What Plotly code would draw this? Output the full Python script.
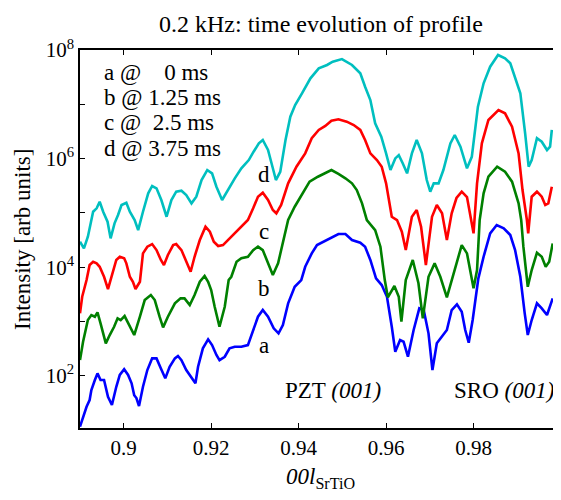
import math
import plotly.graph_objects as go

# ---- data ----
x_a = [0.8900,0.8905,0.8915,0.8922,0.8926,0.8934,0.8940,0.8947,0.8955,0.8964,0.8973,0.8983,0.8991,0.9001,0.9010,0.9018,0.9024,0.9029,0.9035,0.9044,0.9054,0.9065,0.9075,0.9085,0.9095,0.9105,0.9117,0.9124,0.9132,0.9143,0.9155,0.9164,0.9170,0.9181,0.9193,0.9202,0.9212,0.9219,0.9231,0.9242,0.9254,0.9269,0.9284,0.9296,0.9307,0.9318,0.9330,0.9343,0.9354,0.9364,0.9376,0.9391,0.9406,0.9415,0.9430,0.9442,0.9457,0.9476,0.9491,0.9507,0.9522,0.9541,0.9552,0.9564,0.9577,0.9590,0.9602,0.9613,0.9621,0.9632,0.9640,0.9650,0.9663,0.9676,0.9686,0.9697,0.9706,0.9716,0.9728,0.9739,0.9750,0.9762,0.9773,0.9781,0.9789,0.9798,0.9811,0.9823,0.9838,0.9853,0.9869,0.9884,0.9895,0.9907,0.9917,0.9924,0.9933,0.9945,0.9956,0.9968,0.9981]
y_a = [11.6,15.3,27,35.9,54.8,83.7,111,84,84,41,29,63,104,132,104,73,44,39,27.8,63,128,210,210,137,90,147,210,232,195,128,90,73,147,321,470,369,242,195,225,321,344,344,369,698,1227,1630,1227,750,607,863,2163,4375,5810,10200,18000,25600,29500,36500,40900,40900,31700,28300,23900,13600,6250,4700,2860,802,278,456,425,225,698,1750,1630,607,128,397,525,698,1630,2075,1517,698,407,1066,6250,15600,42100,59800,52100,39200,20700,6680,1415,565,1066,2163,1750,1318,2675]

x_b = [0.8900,0.8907,0.8918,0.8926,0.8934,0.8940,0.8947,0.8959,0.8968,0.8978,0.8986,0.8993,0.9002,0.9011,0.9024,0.9037,0.9048,0.9062,0.9071,0.9082,0.9090,0.9101,0.9117,0.9130,0.9139,0.9151,0.9162,0.9174,0.9185,0.9193,0.9200,0.9208,0.9219,0.9231,0.9240,0.9246,0.9258,0.9269,0.9284,0.9296,0.9307,0.9318,0.9330,0.9341,0.9353,0.9364,0.9376,0.9391,0.9410,0.9425,0.9444,0.9461,0.9475,0.9491,0.9507,0.9522,0.9533,0.9545,0.9556,0.9575,0.9587,0.9597,0.9604,0.9619,0.9629,0.9635,0.9645,0.9661,0.9674,0.9684,0.9697,0.9711,0.9724,0.9739,0.9754,0.9773,0.9785,0.9800,0.9808,0.9814,0.9823,0.9834,0.9854,0.9872,0.9888,0.9903,0.9909,0.9914,0.9924,0.9933,0.9945,0.9956,0.9965,0.9973,0.9981]
y_b = [195,425,1066,1318,1227,1479,927,397,565,802,1145,1066,1262,927,565,1227,2490,3076,2490,1227,782,1227,2163,2675,2675,2014,3076,5410,6890,5410,3800,1875,802,1875,5810,6680,12600,14600,15600,20700,23900,20700,11800,7190,11800,27500,74000,130000,229600,375800,464500,535800,616600,521200,433500,350800,264200,150300,74000,48400,23900,5810,2790,4510,2860,993,5810,13600,5060,1145,6680,11800,6680,2790,7190,25600,18000,4090,8890,74000,229600,464500,709600,574100,375800,150300,74000,23900,4375,8890,18500,15600,10200,12600,27500]

x_c = [0.8900,0.8905,0.8915,0.8922,0.8930,0.8938,0.8945,0.8955,0.8964,0.8976,0.8983,0.8991,0.9001,0.9006,0.9014,0.9021,0.9027,0.9037,0.9044,0.9054,0.9065,0.9075,0.9085,0.9092,0.9101,0.9113,0.9120,0.9132,0.9143,0.9153,0.9162,0.9174,0.9187,0.9197,0.9206,0.9216,0.9227,0.9238,0.9254,0.9269,0.9284,0.9296,0.9307,0.9318,0.9330,0.9341,0.9349,0.9360,0.9376,0.9395,0.9415,0.9430,0.9446,0.9461,0.9475,0.9491,0.9510,0.9526,0.9541,0.9552,0.9564,0.9579,0.9590,0.9600,0.9606,0.9613,0.9625,0.9636,0.9645,0.9659,0.9670,0.9680,0.9691,0.9705,0.9716,0.9728,0.9739,0.9750,0.9761,0.9773,0.9785,0.9793,0.9800,0.9808,0.9819,0.9834,0.9857,0.9872,0.9888,0.9903,0.9912,0.9922,0.9925,0.9933,0.9945,0.9956,0.9964,0.9971,0.9979]
y_c = [1415,2860,5810,11000,12600,11800,10200,6680,3970,8890,13600,15600,14600,11800,6680,5410,3970,5410,18000,23900,26700,20700,13600,11000,16800,25600,26700,20700,12600,8260,15600,31700,55700,45100,29500,24600,25600,31700,42100,55700,74000,121600,199100,235600,172900,113200,98400,140000,350800,709600,1.25e6,2.37e6,3.37e6,3.99e6,4.99e6,5.30e6,4.79e6,4.16e6,3.37e6,2.20e6,1.25e6,942000,709600,350800,172900,85100,74000,45100,20700,85100,113200,55700,11000,85100,140000,98400,31700,98400,188400,246000,196300,91600,42100,350800,1.91e6,5.14e6,7.85e6,6.82e6,3.87e6,1.25e6,264200,74000,42100,199100,246000,199100,140000,150300,304100]

x_d = [0.8900,0.8909,0.8918,0.8930,0.8938,0.8945,0.8953,0.8963,0.8970,0.8979,0.8987,0.8995,0.9006,0.9014,0.9025,0.9033,0.9044,0.9056,0.9065,0.9075,0.9086,0.9098,0.9109,0.9120,0.9132,0.9143,0.9155,0.9166,0.9178,0.9191,0.9202,0.9212,0.9225,0.9238,0.9254,0.9269,0.9286,0.9297,0.9309,0.9318,0.9330,0.9341,0.9348,0.9358,0.9370,0.9381,0.9392,0.9408,0.9427,0.9446,0.9465,0.9478,0.9499,0.9522,0.9541,0.9552,0.9564,0.9575,0.9589,0.9600,0.9610,0.9621,0.9629,0.9638,0.9648,0.9659,0.9670,0.9682,0.9693,0.9701,0.9709,0.9720,0.9731,0.9747,0.9757,0.9770,0.9785,0.9796,0.9810,0.9823,0.9838,0.9856,0.9872,0.9884,0.9895,0.9907,0.9918,0.9926,0.9933,0.9945,0.9956,0.9968,0.9975,0.9979]
y_d = [29500,22300,36500,105200,121600,160700,105200,68900,34000,64400,91600,140000,154200,105200,74000,48400,105200,229600,313300,283800,172900,85100,172900,246000,256400,213800,150300,199100,403600,616600,535800,304100,172900,264200,433500,663700,942000,1.34e6,1.91e6,2.20e6,1.44e6,663700,403600,574100,2.20e6,5.92e6,9.70e6,1.60e7,3.01e7,4.60e7,5.30e7,6.10e7,6.82e7,5.30e7,3.72e7,2.11e7,1.20e7,4.47e6,2.53e6,1.25e6,616600,1.01e6,1.16e6,820000,535800,1.25e6,2.20e6,1.25e6,403600,246000,350800,350800,616600,1.91e6,2.72e6,1.66e6,663700,1.08e6,9.04e6,2.44e7,4.93e7,8.09e7,7.03e7,5.69e7,3.22e7,1.60e7,2.92e6,709600,942000,2.37e6,2.05e6,1.44e6,1.66e6,3.37e6]

series_names = ["a", "b", "c", "d"]
series_colors = ["#0000ff", "#008000", "#ff0000", "#00bfbf"]
legend_lines = ["a @\u00a0\u00a0\u00a0\u00a00 ms", "b @ 1.25 ms", "c @\u00a0\u00a02.5 ms", "d @ 3.75 ms"]
curve_label_y = [369, 4.0e3, 4.5e4, 5.0e5]

x_tick_vals = [0.9, 0.92, 0.94, 0.96, 0.98, 1.0]
x_tick_text = ["0.9", "0.92", "0.94", "0.96", "0.98", "1"]
y_major_vals = [1e2, 1e4, 1e6, 1e8]
y_major_text = ["10<sup>2</sup>", "10<sup>4</sup>", "10<sup>6</sup>", "10<sup>8</sup>"]
y_minor_vals = [1e1, 1e3, 1e5, 1e7]
y_all_vals = [1e1, 1e2, 1e3, 1e4, 1e5, 1e6, 1e7, 1e8]

FONT = "Liberation Serif, Times New Roman, Times, serif"
TXT = dict(family=FONT, size=23, color="black")
TICK = dict(ticks="inside", ticklen=5, tickwidth=1, tickcolor="black")

fig = go.Figure()
for xs, ys, name, col in zip([x_a, x_b, x_c, x_d], [y_a, y_b, y_c, y_d], series_names, series_colors):
    fig.add_trace(go.Scatter(x=xs, y=ys, mode="lines", name=name,
                             line=dict(color=col, width=2.6), showlegend=False))
# empty trace so that the right-hand tick axis is drawn
fig.add_trace(go.Scatter(x=[], y=[], yaxis="y2", showlegend=False))

ann = []
for i, t in enumerate(legend_lines):
    ann.append(dict(x=0.8950, y=7.577 - i * 0.4605, xref="x", yref="y", text=t,
                    showarrow=False, xanchor="left", yanchor="middle", font=TXT))
for name, yv in zip(series_names, curve_label_y):
    ann.append(dict(x=0.9321, y=math.log10(yv), xref="x", yref="y", text=name,
                    showarrow=False, xanchor="center", yanchor="middle", font=TXT))
ann.append(dict(x=0.9478, y=1.739, xref="x", yref="y", text="PZT <i>(001)</i>",
                showarrow=False, xanchor="center", yanchor="middle", font=TXT))
ann.append(dict(x=0.9870, y=1.739, xref="x", yref="y", text="SRO <i>(001)</i>",
                showarrow=False, xanchor="center", yanchor="middle", font=TXT))
ann.append(dict(x=0.5, y=-0.090, xref="paper", yref="paper",
                text="<i>00l</i><sub>SrTiO</sub>", showarrow=False,
                xanchor="center", yanchor="top", font=TXT))
ann.append(dict(x=-0.1206, y=0.5, xref="paper", yref="paper",
                text="Intensity [arb units]", showarrow=False, textangle=-90,
                xanchor="center", yanchor="middle", font=TXT))
ann.append(dict(x=0.5, y=1.0 + 26 / 378, xref="paper", yref="paper",
                text="0.2 kHz: time evolution of profile", showarrow=False,
                xanchor="center", yanchor="middle",
                font=dict(family=FONT, size=24, color="black")))

# the page body has an 8 px margin: size the figure so it ends at the window edge
fig.update_layout(
    width=553, height=492,
    margin=dict(l=72, r=0, t=42, b=72, autoexpand=False),
    plot_bgcolor="white", paper_bgcolor="white",
    font=dict(family=FONT, size=21, color="black"),
    showlegend=False,
    annotations=ann,
    xaxis=dict(range=[0.89, 1.0], tickvals=x_tick_vals, ticktext=x_tick_text,
               showline=True, linecolor="black", linewidth=1.5, mirror="ticks",
               showgrid=False, zeroline=False, automargin=False,
               tickfont=dict(family=FONT, size=21, color="black"), **TICK),
    yaxis=dict(type="log", range=[1.04, 8.0], tickvals=y_major_vals, ticktext=y_major_text,
               minor=dict(tickmode="array", tickvals=y_minor_vals, showgrid=False, **TICK),
               showline=True, linecolor="black", linewidth=1.5, mirror=False,
               showgrid=False, zeroline=False, automargin=False,
               tickfont=dict(family=FONT, size=21, color="black"), **TICK),
    yaxis2=dict(type="log", range=[1.04, 8.0], overlaying="y", side="right",
                tickvals=y_all_vals, showticklabels=False,
                showline=False, showgrid=False, zeroline=False, automargin=False, **TICK),
)

fig.write_html("out.html")
